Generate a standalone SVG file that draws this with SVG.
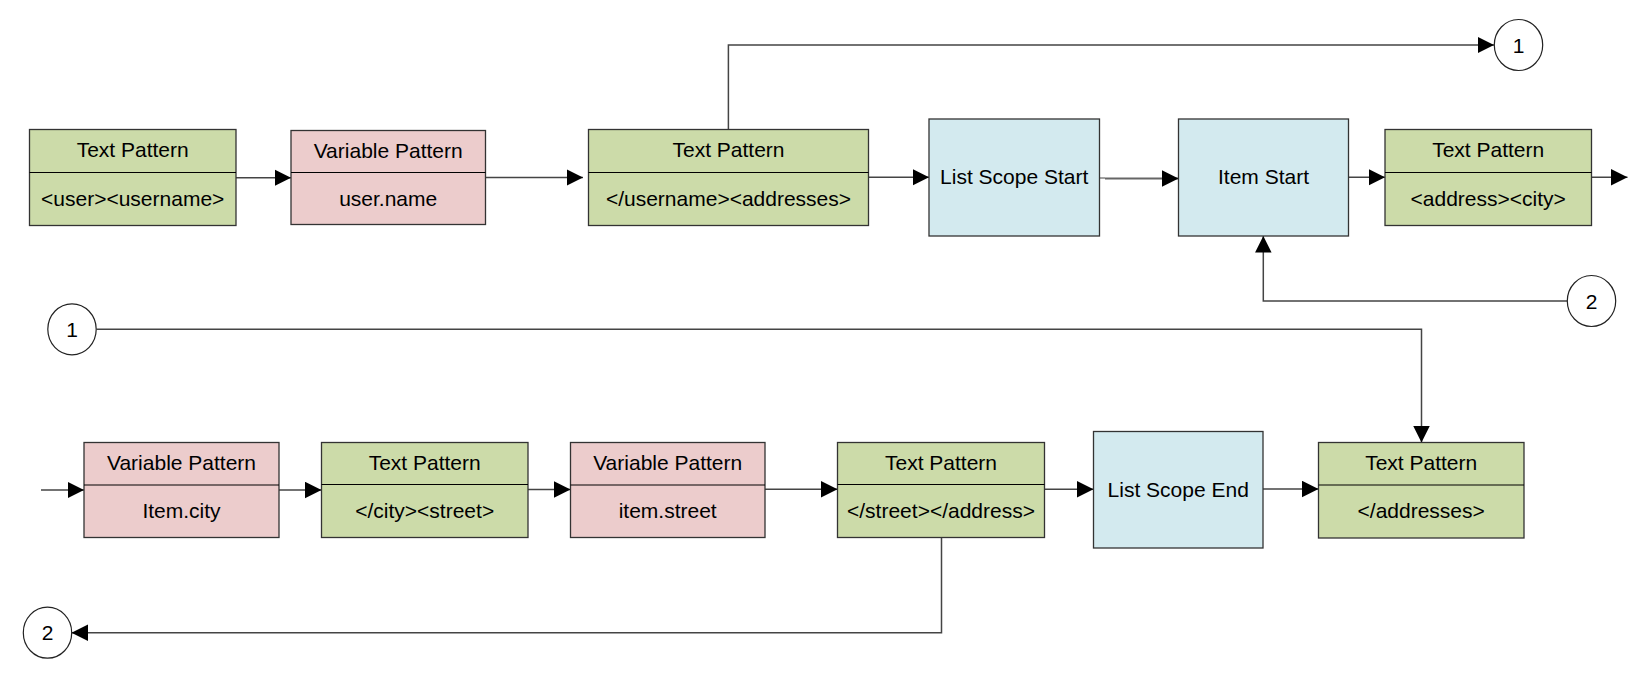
<svg xmlns="http://www.w3.org/2000/svg" width="1650" height="684" viewBox="0 0 1650 684">
<style>
  .t { font-family: "Liberation Sans", Arial, sans-serif; font-size: 21px; fill: #000; text-anchor: middle; }
  .green { fill: #CCDBA9; stroke: #333; stroke-width: 1.3; }
  .pink { fill: #ECCCCC; stroke: #333; stroke-width: 1.3; }
  .blue { fill: #D3EAEF; stroke: #333; stroke-width: 1.3; }
  .div { stroke: #000; stroke-width: 1.2; }
  .circ { fill: #fff; stroke: #222; stroke-width: 1.2; }
  .c { fill: none; stroke: #444; stroke-width: 1.5; }
  .ca { fill: none; stroke: #444; stroke-width: 1.5; marker-end: url(#ah); }
</style>
<defs>
  <marker id="ah" markerUnits="userSpaceOnUse" markerWidth="17" markerHeight="17" refX="16.5" refY="8.25" orient="auto">
    <path d="M0,0 L16.5,8.25 L0,16.5 z" fill="#000"/>
  </marker>
</defs>
<rect width="1650" height="684" fill="#fff"/>

<g id="connectors">
  <line class="ca" x1="236" y1="177.7" x2="291" y2="177.7"/>
  <line class="ca" x1="485.5" y1="177.5" x2="583" y2="177.5"/>
  <polyline class="ca" points="728.4,129.5 728.4,45 1494,45"/>
  <line class="ca" x1="868.5" y1="177.3" x2="929" y2="177.3"/>
  <line class="c" x1="1099.5" y1="178" x2="1105" y2="178" style="stroke-width:1"/>
  <line class="ca" x1="1105" y1="178.6" x2="1178.5" y2="178.6" style="stroke:#666;stroke-width:2"/>
  <line class="ca" x1="1348.5" y1="177.3" x2="1385" y2="177.3"/>
  <line class="ca" x1="1591.5" y1="177.3" x2="1627.5" y2="177.3"/>
  <polyline class="ca" points="1567.3,301 1263.3,301 1263.3,236"/>
  <polyline class="ca" points="96.5,329.3 1421.5,329.3 1421.5,442.5"/>
  <line class="ca" x1="41" y1="490" x2="84" y2="490"/>
  <line class="ca" x1="279" y1="490" x2="321.5" y2="490"/>
  <line class="ca" x1="528" y1="489.5" x2="570.5" y2="489.5"/>
  <line class="ca" x1="765" y1="489.3" x2="837.5" y2="489.3"/>
  <line class="ca" x1="1044.5" y1="489.3" x2="1093.5" y2="489.3"/>
  <line class="ca" x1="1263" y1="489" x2="1318.5" y2="489"/>
  <polyline class="ca" points="941.5,537.5 941.5,632.7 71.5,632.7"/>
</g>

<g id="n1">
  <rect class="green" x="29.5" y="129.5" width="206.5" height="96"/>
  <line class="div" x1="29.5" y1="172.5" x2="236" y2="172.5"/>
  <text class="t" x="132.7" y="157">Text Pattern</text>
  <text class="t" x="132.7" y="206">&lt;user&gt;&lt;username&gt;</text>
</g>
<g id="n2">
  <rect class="pink" x="291" y="130.5" width="194.5" height="94"/>
  <line class="div" x1="291" y1="172.5" x2="485.5" y2="172.5"/>
  <text class="t" x="388.2" y="157.5">Variable Pattern</text>
  <text class="t" x="388.2" y="206">user.name</text>
</g>
<g id="n3">
  <rect class="green" x="588.5" y="129.5" width="280" height="96"/>
  <line class="div" x1="588.5" y1="172.5" x2="868.5" y2="172.5"/>
  <text class="t" x="728.5" y="157">Text Pattern</text>
  <text class="t" x="728.5" y="206">&lt;/username&gt;&lt;addresses&gt;</text>
</g>
<g id="n4">
  <rect class="blue" x="929" y="119" width="170.5" height="117"/>
  <text class="t" x="1014.2" y="184">List Scope Start</text>
</g>
<g id="n5">
  <rect class="blue" x="1178.5" y="119" width="170" height="117"/>
  <text class="t" x="1263.5" y="184">Item Start</text>
</g>
<g id="n6">
  <rect class="green" x="1385" y="129.5" width="206.5" height="96"/>
  <line class="div" x1="1385" y1="172.5" x2="1591.5" y2="172.5"/>
  <text class="t" x="1488.2" y="157">Text Pattern</text>
  <text class="t" x="1488.2" y="206">&lt;address&gt;&lt;city&gt;</text>
</g>
<g id="c1a">
  <ellipse class="circ" cx="1518.5" cy="45" rx="24.2" ry="25.5"/>
  <text class="t" x="1518.5" y="52.5">1</text>
</g>
<g id="c2a">
  <ellipse class="circ" cx="1591.5" cy="301" rx="24.2" ry="25.5"/>
  <text class="t" x="1591.5" y="308.5">2</text>
</g>
<g id="c1b">
  <ellipse class="circ" cx="72" cy="329.3" rx="24.2" ry="25.5"/>
  <text class="t" x="72" y="336.8">1</text>
</g>
<g id="n7">
  <rect class="pink" x="84" y="442.5" width="195" height="95"/>
  <line class="div" x1="84" y1="485" x2="279" y2="485"/>
  <text class="t" x="181.5" y="469.5">Variable Pattern</text>
  <text class="t" x="181.5" y="518">Item.city</text>
</g>
<g id="n8">
  <rect class="green" x="321.5" y="442.5" width="206.5" height="95"/>
  <line class="div" x1="321.5" y1="484.5" x2="528" y2="484.5"/>
  <text class="t" x="424.7" y="469.5">Text Pattern</text>
  <text class="t" x="424.7" y="518">&lt;/city&gt;&lt;street&gt;</text>
</g>
<g id="n9">
  <rect class="pink" x="570.5" y="442.5" width="194.5" height="95"/>
  <line class="div" x1="570.5" y1="485" x2="765" y2="485"/>
  <text class="t" x="667.7" y="469.5">Variable Pattern</text>
  <text class="t" x="667.7" y="518">item.street</text>
</g>
<g id="n10">
  <rect class="green" x="837.5" y="442.5" width="207" height="95"/>
  <line class="div" x1="837.5" y1="484.5" x2="1044.5" y2="484.5"/>
  <text class="t" x="941" y="469.5">Text Pattern</text>
  <text class="t" x="941" y="518">&lt;/street&gt;&lt;/address&gt;</text>
</g>
<g id="n11">
  <rect class="blue" x="1093.5" y="431.5" width="169.5" height="116.5"/>
  <text class="t" x="1178.2" y="496.5">List Scope End</text>
</g>
<g id="n12">
  <rect class="green" x="1318.5" y="442.5" width="205.5" height="95.5"/>
  <line class="div" x1="1318.5" y1="485" x2="1524" y2="485"/>
  <text class="t" x="1421.2" y="469.5">Text Pattern</text>
  <text class="t" x="1421.2" y="518">&lt;/addresses&gt;</text>
</g>
<g id="c2b">
  <ellipse class="circ" cx="47.5" cy="632.7" rx="24.2" ry="25.5"/>
  <text class="t" x="47.5" y="640.2">2</text>
</g>
</svg>
